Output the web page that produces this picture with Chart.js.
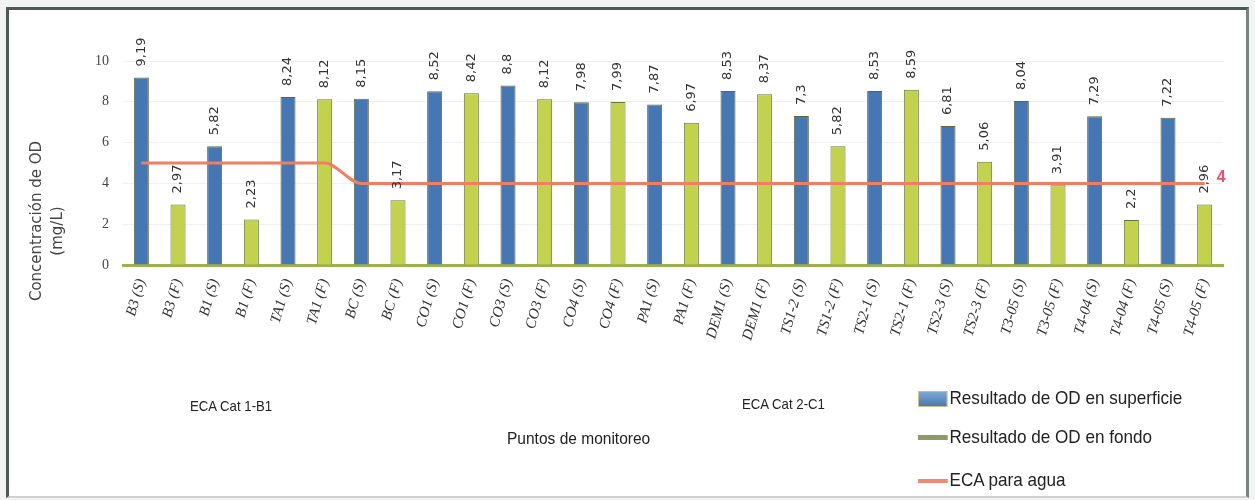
<!DOCTYPE html>
<html lang="es">
<head>
<meta charset="utf-8">
<title>Concentración de OD</title>
<script src="https://cdn.jsdelivr.net/npm/chart.js@4.4.1/dist/chart.umd.min.js"></script>
<style>
  html, body { margin: 0; padding: 0; background: #f3f3f3; }
  #wrap { position: relative; width: 1255px; height: 500px; overflow: hidden; }
  .frame {
    position: absolute; left: 6px; top: 7px; width: 1243px; height: 491px;
    box-sizing: border-box; background: #fff;
    border: 3px solid #4b5a53; border-right-color: #75847d; border-bottom: 2px solid #cfcfcf;
  }
  canvas { position: absolute; left: 0; top: 0; }
  .txt {
    position: absolute; white-space: nowrap; color: #222;
    font-family: "Liberation Sans", sans-serif; transform-origin: left center;
  }
  .ytitle { font-family: "DejaVu Sans", sans-serif; font-size: 15px; color: #444; transform: translate(-50%, -50%) rotate(-90deg); transform-origin: center; }
  .leg { left: 918px; font-size: 19px; line-height: 20px; transform: scaleX(0.9); }
  .leg i { display: inline-block; width: 33px; vertical-align: middle; margin-right: 2px; }
</style>
</head>
<body>
<div id="wrap">
  <div class="frame"></div>
  <canvas id="chart" width="1255" height="500"></canvas>
  <div class="txt ytitle" style="left:36px; top:221px;">Concentración de OD</div>
  <div class="txt ytitle" style="left:57px; top:231px;">(mg/L)</div>
  <div class="txt" style="left:190px; top:397px; font-size:15px; transform:scaleX(0.88);">ECA Cat 1-B1</div>
  <div class="txt" style="left:742px; top:395px; font-size:15px; transform:scaleX(0.88);">ECA Cat 2-C1</div>
  <div class="txt" style="left:507px; top:430px; font-size:16px; transform:scaleX(0.97);">Puntos de monitoreo</div>
  <div class="txt leg" style="top:388px;"><i style="height:16px; background:linear-gradient(#7fa6d4,#4a78b3); border:1px solid #c9c27a; box-sizing:border-box;"></i>Resultado de OD en superficie</div>
  <div class="txt leg" style="top:427px;"><i style="height:5px; background:#8c9b63;"></i>Resultado de OD en fondo</div>
  <div class="txt leg" style="top:470px;"><i style="height:4px; background:#f08a70;"></i>ECA para agua</div>
</div>
<script>
const categories = [
  "B3 (S)", "B3 (F)", "B1 (S)", "B1 (F)", "TA1 (S)", "TA1 (F)", "BC (S)", "BC (F)",
  "CO1 (S)", "CO1 (F)", "CO3 (S)", "CO3 (F)", "CO4 (S)", "CO4 (F)", "PA1 (S)", "PA1 (F)",
  "DEM1 (S)", "DEM1 (F)", "TS1-2 (S)", "TS1-2 (F)", "TS2-1 (S)", "TS2-1 (F)", "TS2-3 (S)", "TS2-3 (F)",
  "T3-05 (S)", "T3-05 (F)", "T4-04 (S)", "T4-04 (F)", "T4-05 (S)", "T4-05 (F)"
];

// superficie = (S) points, fondo = (F) points
const superficie = [
  9.19, null, 5.82, null, 8.24, null, 8.15, null,
  8.52, null, 8.8, null, 7.98, null, 7.87, null,
  8.53, null, 7.3, null, 8.53, null, 6.81, null,
  8.04, null, 7.29, null, 7.22, null
];
const fondo = [
  null, 2.97, null, 2.23, null, 8.12, null, 3.17,
  null, 8.42, null, 8.12, null, 7.99, null, 6.97,
  null, 8.37, null, 5.82, null, 8.59, null, 5.06,
  null, 3.91, null, 2.2, null, 2.96
];
const eca = [
  5, 5, 5, 5, 5, 5, 4, 4, 4, 4, 4, 4, 4, 4, 4, 4,
  4, 4, 4, 4, 4, 4, 4, 4, 4, 4, 4, 4, 4, 4
];
const yTicks = [0, 2, 4, 6, 8, 10];

const fmt = v => String(v).replace(".", ",");

// vertical value labels above bars + label at the end of the ECA line
const valueLabels = {
  id: "valueLabels",
  afterDatasetsDraw(chart) {
    const ctx = chart.ctx;
    ctx.save();
    ctx.font = "13px 'DejaVu Sans'";
    ctx.fillStyle = "#333";
    ctx.textAlign = "left";
    ctx.textBaseline = "middle";
    [1, 2].forEach(i => {
      const meta = chart.getDatasetMeta(i);
      meta.data.forEach((bar, j) => {
        const v = chart.data.datasets[i].data[j];
        if (v == null) return;
        ctx.save();
        ctx.translate(bar.x, bar.y - 11);
        ctx.rotate(-Math.PI / 2);
        ctx.fillText(fmt(v), 0, 0);
        ctx.restore();
      });
    });
    const line = chart.getDatasetMeta(0).data;
    const last = line[line.length - 1];
    ctx.font = "bold 16px 'Liberation Sans'";
    ctx.fillStyle = "#e2566b";
    ctx.fillText(fmt(eca[eca.length - 1]), last.x + 12, last.y - 6);
    ctx.restore();
  }
};

new Chart(document.getElementById("chart"), {
  data: {
    labels: categories,
    datasets: [
      {
        type: "line",
        label: "ECA para agua",
        data: eca,
        borderColor: "#ef7e62",
        borderWidth: 3,
        pointRadius: 0,
        cubicInterpolationMode: "monotone",
        order: 0
      },
      {
        type: "bar",
        label: "Resultado de OD en superficie",
        data: superficie,
        backgroundColor: "#4777b3",
        borderColor: "#5c6b35",
        borderWidth: 1,
        grouped: false,
        barPercentage: 0.41,
        categoryPercentage: 1,
        order: 1
      },
      {
        type: "bar",
        label: "Resultado de OD en fondo",
        data: fondo,
        backgroundColor: "#c3d24e",
        borderColor: "#66753a",
        borderWidth: 1,
        grouped: false,
        barPercentage: 0.41,
        categoryPercentage: 1,
        order: 1
      }
    ]
  },
  options: {
    responsive: false,
    animation: false,
    layout: { padding: { top: 61, right: 32, bottom: 125, left: 0 } },
    plugins: {
      legend: { display: false },
      tooltip: { enabled: false }
    },
    scales: {
      x: {
        offset: true,
        grid: { display: false, drawTicks: false },
        border: { display: true, color: "#9cb04c", width: 3 },
        ticks: {
          autoSkip: false,
          minRotation: 74,
          maxRotation: 74,
          padding: 12,
          color: "#333",
          font: { family: "'Liberation Serif'", style: "italic", size: 15 }
        },
        afterFit(scale) { scale.height = 110; }
      },
      y: {
        min: 0,
        max: 10,
        afterBuildTicks(scale) { scale.ticks = yTicks.map(v => ({ value: v })); },
        grid: { color: "#efefef", drawTicks: false },
        border: { display: false },
        ticks: {
          padding: 14,
          color: "#444",
          font: { family: "'Liberation Serif'", size: 14 }
        },
        afterFit(scale) { scale.width = 123; }
      }
    }
  },
  plugins: [valueLabels]
});
</script>
</body>
</html>
